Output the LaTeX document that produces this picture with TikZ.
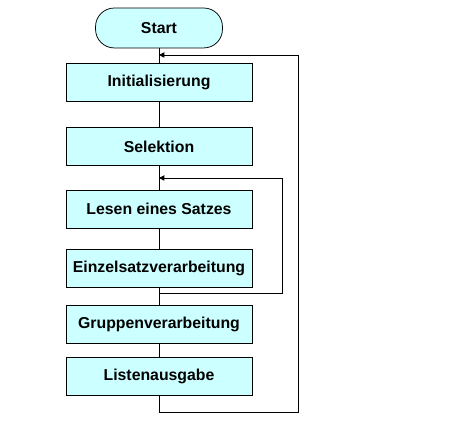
\documentclass[tikz,border=0pt]{standalone}
\usepackage{fontspec}
\setmainfont{Liberation Sans}
\usetikzlibrary{arrows.meta}

\definecolor{boxfill}{RGB}{204,255,255}

\begin{document}
\begin{tikzpicture}[
  box/.style={draw, fill=boxfill, line width=0.7pt, minimum width=6.2cm, minimum height=1.27cm,
    font=\fontsize{15}{18}\selectfont\bfseries},
  startbox/.style={box, minimum width=4.23cm, minimum height=1.33cm, rounded corners=0.62cm},
  flow/.style={line width=0.8pt},
  back/.style={line width=0.8pt, -{Triangle[length=5pt,width=5pt]}}
]

%%% Rahmen
\useasboundingbox (0,0) rectangle (15.833,14.233);

%% Kaesten
\node[startbox] (start) at (5.3,13.3) {Start};
\node[box] (init)   at (5.3,11.483) {Initialisierung};
\node[box] (sel)    at (5.3,9.35)   {Selektion};
\node[box] (lesen)  at (5.3,7.267)  {Lesen eines Satzes};
\node[box] (einzel) at (5.3,5.283)  {Einzelsatzverarbeitung};
\node[box] (gruppe) at (5.3,3.433)  {Gruppenverarbeitung};
\node[box] (liste)  at (5.3,1.683)  {Listenausgabe};

%% Punkte der Schleifen
\coordinate (oin)  at (5.3,12.4);
\coordinate (ob)   at (5.3,0.5);
\coordinate (iin)  at (5.3,8.3);
\coordinate (ib)   at (5.3,4.467);

%% Linien
\draw[flow] (start) -- (init);
\draw[flow] (init) -- (sel);
\draw[flow] (sel) -- (lesen);
\draw[flow] (lesen) -- (einzel);
\draw[flow] (einzel) -- (gruppe);
\draw[flow] (gruppe) -- (liste);

% innere Schleife
\draw[back] (einzel.south) -- (ib) -- ++(4.1,0) |- (iin);
% aeussere Schleife
\draw[back] (liste.south) -- (ob) -- ++(4.633,0) |- (oin);

\end{tikzpicture}
\end{document}
